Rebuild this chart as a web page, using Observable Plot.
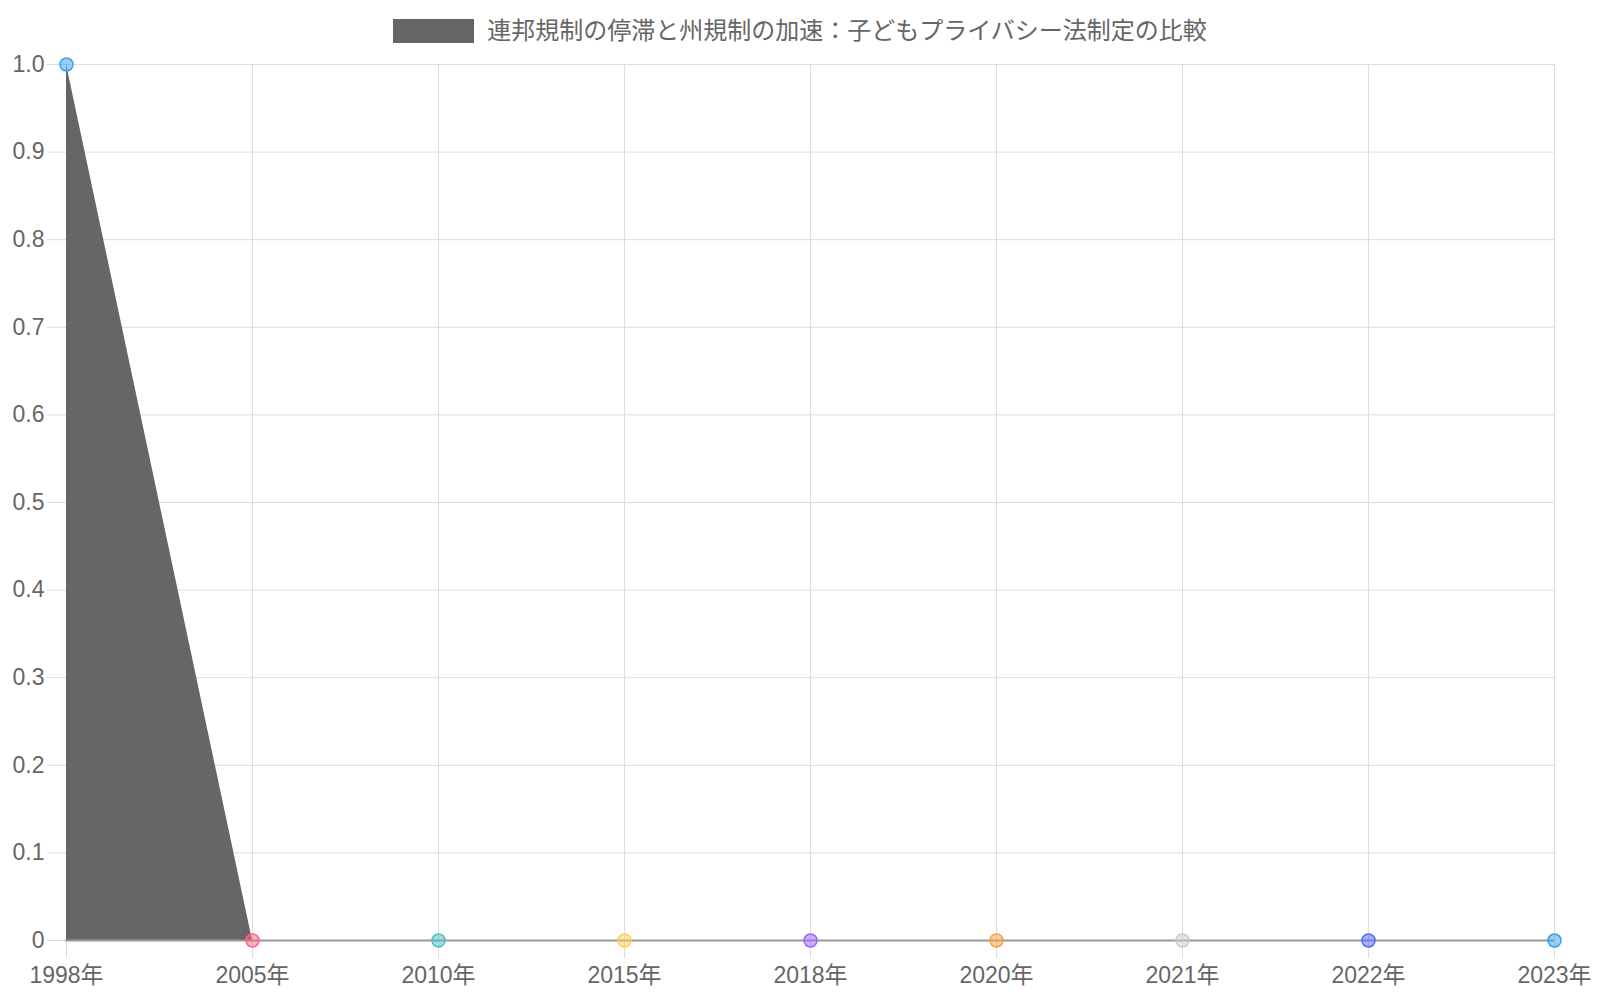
<!DOCTYPE html>
<html><head><meta charset="utf-8">
<script src="https://cdn.jsdelivr.net/npm/d3@7"></script>
<script src="https://cdn.jsdelivr.net/npm/@observablehq/plot@0.6"></script>
<style>
body{margin:0;background:#fff;font-family:"Liberation Sans","Noto Sans CJK JP",sans-serif;}
#legend{height:44px;box-sizing:border-box;padding-top:19px;display:flex;justify-content:center;align-items:flex-start;}
.swatch{width:81px;height:24px;background:#666;margin-right:13px;}
.ltext{font-family:"Liberation Sans","Noto Sans CJK JP",sans-serif;font-size:24px;color:#666;line-height:24px;}
</style>
</head><body>
<div id="legend"><div class="swatch"></div><div class="ltext">連邦規制の停滞と州規制の加速：子どもプライバシー法制定の比較</div></div>
<div id="chart"></div>
<script>
const years = ["1998年","2005年","2010年","2015年","2018年","2020年","2021年","2022年","2023年"];
const values = [1,0,0,0,0,0,0,0,0];
const pointColors = ["rgb(54,162,235)","rgb(255,99,132)","rgb(75,192,192)","rgb(255,205,86)","rgb(153,102,255)","rgb(255,159,64)","rgb(201,203,207)","rgb(83,102,255)","rgb(54,162,235)"];
const yTicks = [0,0.1,0.2,0.3,0.4,0.5,0.6,0.7,0.8,0.9,1.0];

const data = years.map((y,i)=>({year:y, value:values[i], color:pointColors[i]}));
const font = '"Liberation Sans","Noto Sans CJK JP",sans-serif';

const chart = Plot.plot({
  width:1600, height:956,
  marginLeft:65, marginRight:46, marginTop:20, marginBottom:60,
  style:{fontFamily:font, fontSize:"23px", color:"#666", background:"#fff", overflow:"visible"},
  x:{type:"point", domain:years, padding:0},
  y:{domain:[0,1]},
  color:{type:"identity"},
  marks:[
    Plot.gridX(years,{stroke:"#dddddd", strokeOpacity:1, strokeWidth:1}),
    Plot.gridY(yTicks,{stroke:"#dddddd", strokeOpacity:1, strokeWidth:1}),
    Plot.axisX(years,{tickSize:18, tickPadding:8, stroke:"#dddddd", fill:"#666", fontSize:23, label:null}),
    Plot.axisY(yTicks,{tickSize:18, tickPadding:3, stroke:"#dddddd", fill:"#666", fontSize:23, label:null,
      tickFormat:d => d===0 ? "0" : d.toFixed(1)}),
    Plot.areaY(data,{x:"year", y:"value", fill:"#666", curve:"linear"}),
    Plot.ruleY([0],{stroke:"#999", strokeWidth:2}),
    Plot.dot(data,{x:"year", y:"value", r:6.5, fill:"color", fillOpacity:0.5, stroke:"color", strokeWidth:1.5})
  ]
});
document.getElementById("chart").appendChild(chart);
</script>
</body></html>
